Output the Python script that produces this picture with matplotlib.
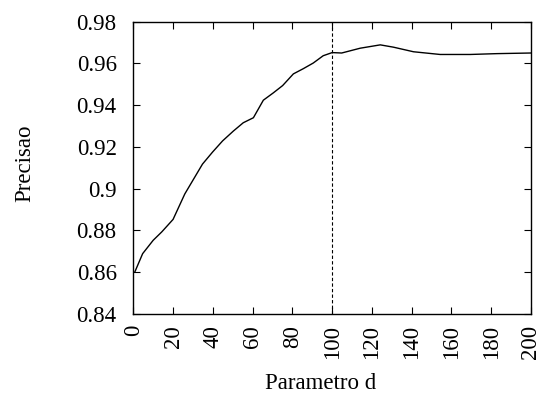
import matplotlib
matplotlib.use("Agg")
import matplotlib.pyplot as plt
from matplotlib.ticker import FuncFormatter

plt.rcParams['font.family'] = ['Liberation Serif', 'DejaVu Serif']

# precisao em funcao do parametro d
param_d = [0.8, 4.7, 10, 14.3, 20, 25.9, 34.8, 39.9, 44.9, 50.3, 55.3, 60.4,
           65.4, 70.4, 75.1, 80.5, 85.5, 90.5, 95.5, 100, 104.8, 114.1, 124.2,
           130.8, 140.9, 154.3, 169.4, 182.8, 200]
precisao = [0.8602, 0.8689, 0.8753, 0.8793, 0.8853, 0.8975, 0.9118, 0.9176,
            0.9229, 0.9276, 0.9316, 0.9340, 0.9424, 0.9459, 0.9494, 0.9550,
            0.9575, 0.9602, 0.9637, 0.9652, 0.9650, 0.9673, 0.9689, 0.9678,
            0.9656, 0.9643, 0.9643, 0.9647, 0.9650]
d_escolhido = 100

x_ticks = list(range(0, 201, 20))
y_ticks = [0.84, 0.86, 0.88, 0.90, 0.92, 0.94, 0.96, 0.98]


def fmt_y(v, pos):
    # estilo %g: 0.9 em vez de 0.90
    return f"{v:.2f}".rstrip('0')


fig = plt.figure(figsize=(5.41, 3.98), dpi=100)
ax = fig.add_axes([0.2464, 0.2111, 0.9815 - 0.2464, 0.9455 - 0.2111])

ax.plot(param_d, precisao, color='black', linewidth=1.0)
ax.axvline(d_escolhido, color='black', linewidth=0.8, linestyle=(0, (3, 2)))

ax.set_xlim(0, 200)
ax.set_ylim(0.84, 0.98)
ax.set_xticks(x_ticks)
ax.set_yticks(y_ticks)
ax.yaxis.set_major_formatter(FuncFormatter(fmt_y))

ax.tick_params(direction='in', length=5, width=0.8, top=True, right=True,
               labelsize=16.5, pad=12)
ax.tick_params(axis='x', labelrotation=90, pad=8)
for s in ax.spines.values():
    s.set_linewidth(1.0)

ax.set_xlabel('Parametro d', fontsize=16.5, labelpad=10, x=0.472)
ax.set_ylabel('Precisao', fontsize=16.5, labelpad=30, y=0.517)

fig.savefig('out.png', dpi=100)
